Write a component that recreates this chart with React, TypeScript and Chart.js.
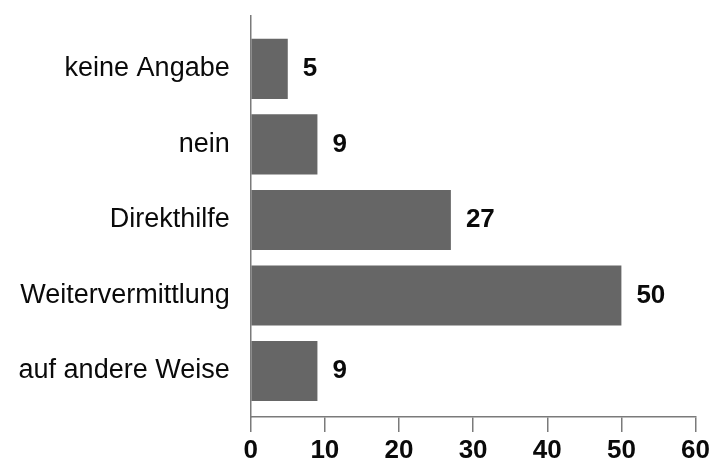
import React, { useEffect, useRef } from "react";
import { Chart, registerables } from "chart.js";

Chart.register(...registerables);

const categories: string[] = ["keine Angabe", "nein", "Direkthilfe", "Weitervermittlung", "auf andere Weise"];
const values: number[] = [5, 9, 27, 50, 9];
const xTicks: number[] = [0, 10, 20, 30, 40, 50, 60];

const FONT = "'Liberation Sans', Arial, Helvetica, sans-serif";
const BAR_COLOR = "#666666";
const AXIS_COLOR = "#7a7a7a";
const TEXT_COLOR = "#0a0a0a";

const valueLabelPlugin = {
  id: "valueLabels",
  afterDatasetsDraw(chart: any) {
    const ctx = chart.ctx;
    const meta = chart.getDatasetMeta(0);
    ctx.save();
    ctx.font = `bold 26px ${FONT}`;
    ctx.fillStyle = TEXT_COLOR;
    ctx.textAlign = "left";
    ctx.textBaseline = "middle";
    meta.data.forEach((el: any, i: number) => {
      ctx.fillText(String(values[i]), el.x + 15, el.y);
    });
    ctx.restore();
  },
};

export default function App() {
  const canvasRef = useRef<HTMLCanvasElement | null>(null);

  useEffect(() => {
    document.body.style.margin = "0";
    const canvas = canvasRef.current;
    if (!canvas) return;
    const chart = new Chart(canvas, {
      type: "bar",
      data: {
        datasets: [
          {
            data: values.map((v, i) => ({ x: v, y: i })),
            backgroundColor: BAR_COLOR,
            borderWidth: 0,
            categoryPercentage: 1,
            barPercentage: 0.795,
          },
        ],
      },
      plugins: [valueLabelPlugin],
      options: {
        indexAxis: "y",
        animation: false,
        responsive: false,
        maintainAspectRatio: false,
        layout: { padding: { top: 16, right: 16, left: 0, bottom: 0 } },
        plugins: {
          legend: { display: false },
          tooltip: { enabled: false },
          title: { display: false },
        },
        scales: {
          x: {
            type: "linear",
            position: "bottom",
            min: 0,
            max: 60,
            offset: false,
            afterBuildTicks: (scale: any) => {
              scale.ticks = xTicks.map((v) => ({ value: v }));
            },
            afterFit: (scale: any) => {
              scale.height = 46;
            },
            grid: {
              display: true,
              drawOnChartArea: false,
              drawTicks: true,
              tickLength: 15,
              offset: false,
              color: AXIS_COLOR,
              lineWidth: 1.5,
            },
            border: { display: true, color: AXIS_COLOR, width: 1.5 },
            ticks: {
              padding: 3,
              color: TEXT_COLOR,
              font: { family: FONT, size: 26, weight: "bold" },
              maxRotation: 0,
              autoSkip: false,
            },
          },
          y: {
            type: "linear",
            position: "left",
            reverse: true,
            min: -0.7,
            max: 4.61,
            offset: false,
            afterBuildTicks: (scale: any) => {
              scale.ticks = categories.map((_, i) => ({ value: i }));
            },
            afterFit: (scale: any) => {
              scale.width = 250.7;
              scale.paddingTop = 0;
              scale.paddingBottom = 0;
            },
            grid: { display: false, drawTicks: false, offset: false },
            border: { display: true, color: AXIS_COLOR, width: 1.5 },
            ticks: {
              padding: 21,
              color: TEXT_COLOR,
              font: { family: FONT, size: 27 },
              autoSkip: false,
              callback: (v: any) => categories[Number(v)] ?? "",
            },
          },
        },
      } as any,
    });
    return () => chart.destroy();
  }, []);

  return (
    <div style={{ width: 713, height: 463 }}>
      <canvas ref={canvasRef} width={713} height={463} style={{ display: "block", width: 713, height: 463 }} />
    </div>
  );
}
